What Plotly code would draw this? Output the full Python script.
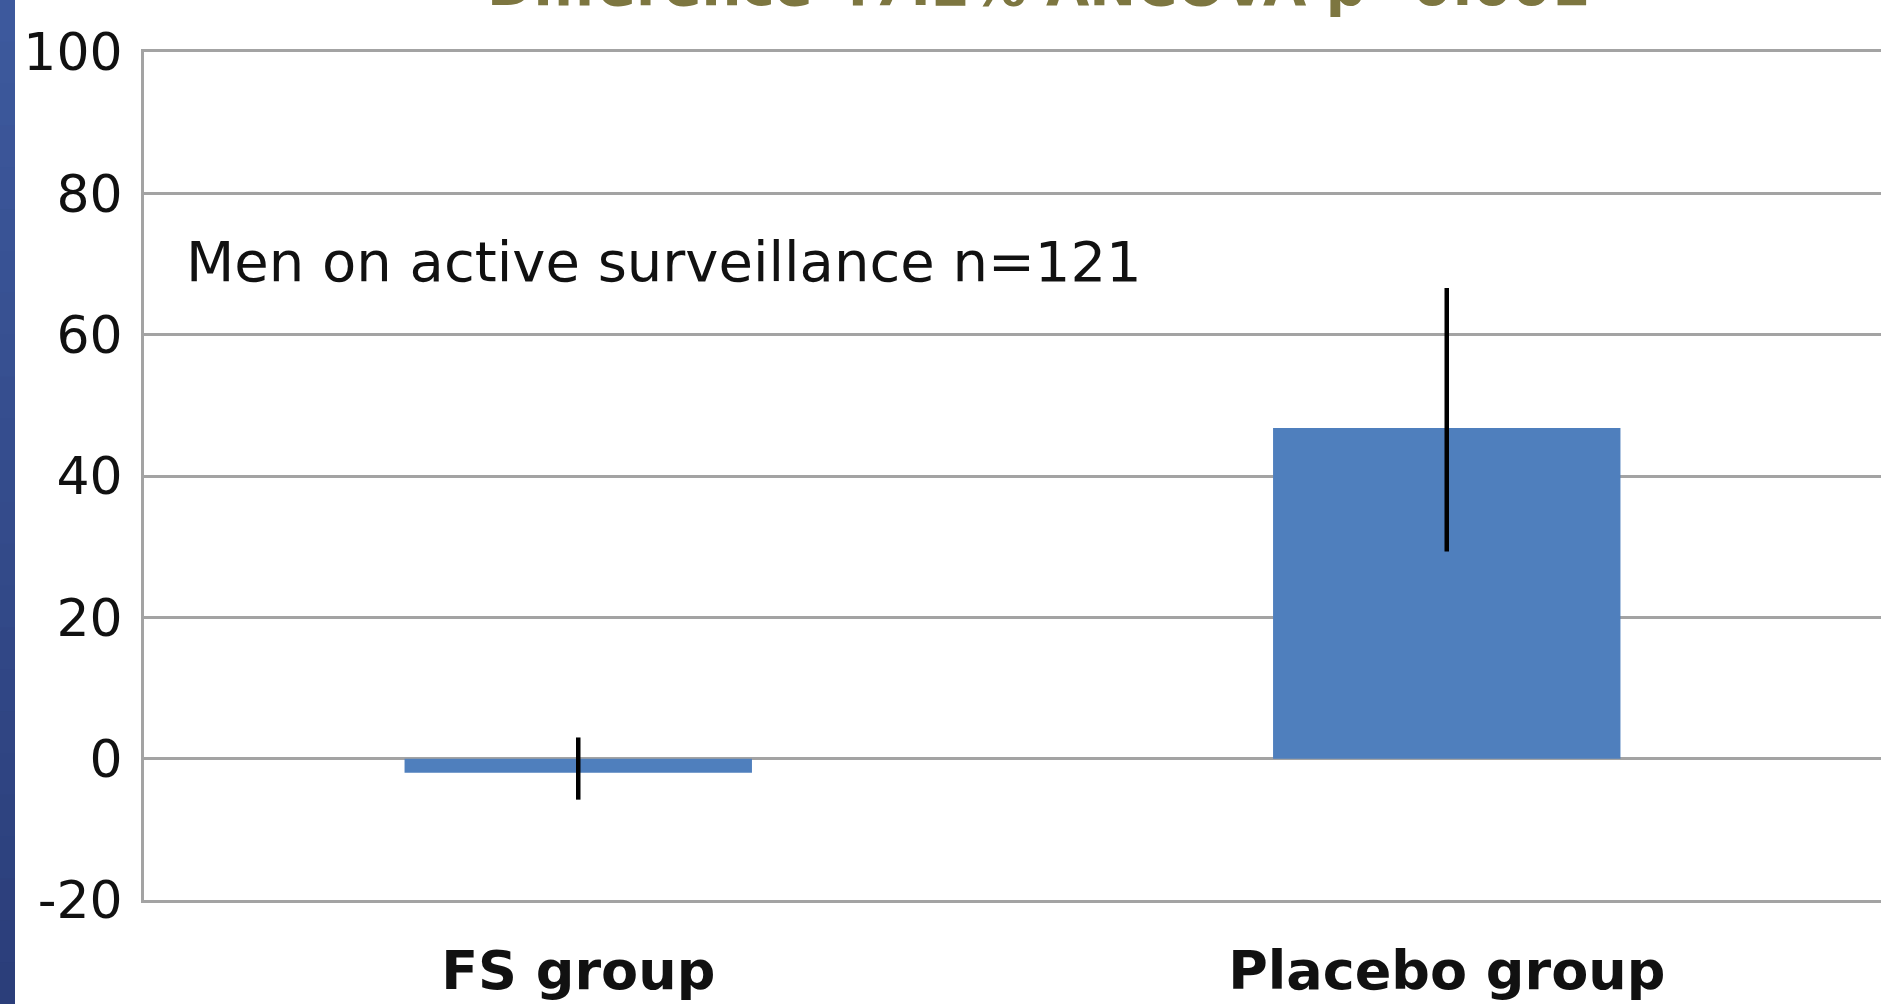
import plotly.graph_objects as go

# Percent change by treatment arm, with asymmetric error bars
categories = ["FS group", "Placebo group"]
change = [-2.0, 46.8]
err_plus = [5.0, 19.8]
err_minus = [3.8, 17.5]

y_ticks = [100, 80, 60, 40, 20, 0, -20]
y_tick_labels = ["100", "80", "60", "40", "20", "0", "-20"]

title_text = "Difference 47.2% ANCOVA p=0.001"
note_text = "Men on active surveillance n=121"

W, H = 1881, 1004
ML, MR, MT, MB = 144, 0, 52, 104
PW, PH = W - ML - MR, H - MT - MB
GRID = "#a3a3a3"

fig = go.Figure()
fig.add_trace(go.Bar(
    x=categories,
    y=change,
    marker=dict(color="#4f7fbd", line=dict(width=0)),
    error_y=dict(
        type="data", symmetric=False,
        array=err_plus, arrayminus=err_minus,
        color="#000000", thickness=4.5, width=0,
    ),
    showlegend=False,
))

# Dark blue strip along the left edge (banded gradient)
shapes = []
n_bands = 24
top_rgb = (61, 89, 157)
bot_rgb = (43, 62, 122)
for i in range(n_bands):
    t = i / (n_bands - 1)
    r = round(top_rgb[0] + (bot_rgb[0] - top_rgb[0]) * t)
    g = round(top_rgb[1] + (bot_rgb[1] - top_rgb[1]) * t)
    b = round(top_rgb[2] + (bot_rgb[2] - top_rgb[2]) * t)
    y_top_px = H * i / n_bands
    y_bot_px = H * (i + 1) / n_bands + 1
    shapes.append(dict(
        type="rect", xref="paper", yref="paper", layer="above",
        x0=(0 - ML) / PW, x1=(15 - ML) / PW,
        y0=1 - (y_bot_px - MT) / PH, y1=1 - (y_top_px - MT) / PH,
        fillcolor=f"rgb({r},{g},{b})", line=dict(width=0),
    ))

annotations = [
    dict(
        text=note_text, xref="paper", yref="y",
        x=(184 - ML) / PW, y=70.4, xanchor="left", yanchor="middle",
        showarrow=False,
        font=dict(family="DejaVu Sans", size=56, color="#111111"),
    ),
    dict(
        text=title_text, xref="paper", yref="paper",
        x=(1038 - ML) / PW, y=1 + (MT - 20) / PH,
        xanchor="center", yanchor="bottom", showarrow=False,
        font=dict(family="DejaVu Sans", size=56, color="#7d7640", weight="bold"),
    ),
]

fig.update_layout(
    width=W, height=H,
    margin=dict(l=ML, r=MR, t=MT, b=MB, pad=0),
    paper_bgcolor="#ffffff",
    plot_bgcolor="#ffffff",
    bargap=0.6,
    shapes=shapes,
    annotations=annotations,
    xaxis=dict(
        showgrid=False, zeroline=False, ticks="", automargin=False,
        showline=True, mirror=True, linecolor=GRID, linewidth=3,
        tickfont=dict(family="DejaVu Sans", size=54, color="#111111", weight="bold"),
        ticklabelstandoff=21,
    ),
    yaxis=dict(
        range=[-20, 100], automargin=False,
        tickvals=y_ticks, ticktext=y_tick_labels,
        showgrid=True, gridcolor=GRID, gridwidth=3,
        zeroline=True, zerolinecolor=GRID, zerolinewidth=3,
        showline=True, linecolor=GRID, linewidth=3,
        ticks="", ticklabelstandoff=8,
        tickfont=dict(family="DejaVu Sans", size=52, color="#111111"),
    ),
)

fig.write_html("out.html")
